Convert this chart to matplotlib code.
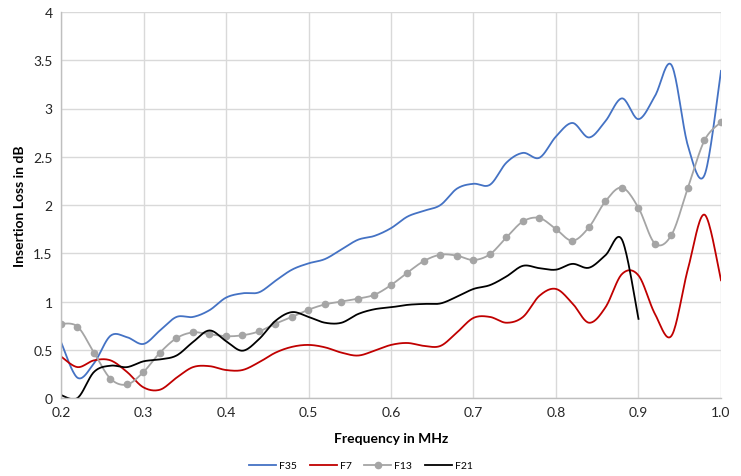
import numpy as np
import matplotlib
matplotlib.use("Agg")
import matplotlib.pyplot as plt

plt.rcParams['font.family'] = ['Lato', 'DejaVu Sans']

freq = [round(0.2 + 0.02 * i, 2) for i in range(41)]

f35 = [0.58, 0.21, 0.36, 0.645, 0.63, 0.56, 0.70, 0.84, 0.84, 0.91,
       1.04, 1.085, 1.095, 1.215, 1.33, 1.395, 1.44, 1.54, 1.64, 1.68,
       1.76, 1.88, 1.94, 2.00, 2.17, 2.22, 2.21, 2.44, 2.54, 2.49,
       2.71, 2.85, 2.70, 2.87, 3.105, 2.89, 3.13, 3.45, 2.61, 2.31,
       3.39]
f7 = [0.43, 0.32, 0.39, 0.39, 0.27, 0.11, 0.086, 0.21, 0.32, 0.33,
      0.29, 0.29, 0.37, 0.47, 0.53, 0.55, 0.525, 0.47, 0.44, 0.49,
      0.55, 0.57, 0.54, 0.54, 0.68, 0.83, 0.84, 0.78, 0.84, 1.06,
      1.13, 0.98, 0.78, 0.94, 1.285, 1.27, 0.87, 0.645, 1.34, 1.90,
      1.22]
f13 = [0.77, 0.74, 0.47, 0.20, 0.14, 0.27, 0.47, 0.62, 0.68, 0.66,
       0.64, 0.65, 0.69, 0.77, 0.84, 0.915, 0.97, 1.00, 1.03, 1.07,
       1.17, 1.30, 1.42, 1.485, 1.475, 1.43, 1.49, 1.665, 1.83, 1.865,
       1.75, 1.63, 1.77, 2.04, 2.18, 1.97, 1.60, 1.69, 2.18, 2.67,
       2.86]
# F21 stops at 0.9 MHz
f21 = [0.03, 0.0, 0.27, 0.335, 0.32, 0.38, 0.40, 0.44, 0.58, 0.70,
       0.59, 0.49, 0.61, 0.80, 0.89, 0.84, 0.78, 0.78, 0.87, 0.92,
       0.94, 0.965, 0.975, 0.98, 1.05, 1.13, 1.17, 1.26, 1.37, 1.345,
       1.33, 1.39, 1.35, 1.48, 1.64, 0.82]


def smooth(x, y, n=20):
    # Catmull-Rom style bezier, like a spreadsheet "smoothed line"
    x = np.asarray(x, float)
    y = np.asarray(y, float)
    px = np.concatenate([[x[0]], x, [x[-1]]])
    py = np.concatenate([[y[0]], y, [y[-1]]])
    xs, ys = [], []
    t = np.linspace(0, 1, n, endpoint=False)
    for i in range(1, len(px) - 2):
        p0 = np.array([px[i], py[i]])
        p3 = np.array([px[i + 1], py[i + 1]])
        c1 = p0 + (np.array([px[i + 1], py[i + 1]]) - np.array([px[i - 1], py[i - 1]])) / 6
        c2 = p3 - (np.array([px[i + 2], py[i + 2]]) - np.array([px[i], py[i]])) / 6
        b = ((1 - t) ** 3)[:, None] * p0 + (3 * (1 - t) ** 2 * t)[:, None] * c1 \
            + (3 * (1 - t) * t ** 2)[:, None] * c2 + (t ** 3)[:, None] * p3
        xs.extend(b[:, 0])
        ys.extend(b[:, 1])
    xs.append(x[-1])
    ys.append(y[-1])
    return xs, ys


fig = plt.figure(figsize=(7.41, 4.77), dpi=100)
ax = fig.add_axes([61 / 741, 78 / 477, 660 / 741, 386 / 477])

lw = 1.3
x, y = smooth(freq, f35)
ax.plot(x, y, color='#4472C4', lw=lw, label='F35')
x, y = smooth(freq, f7)
ax.plot(x, y, color='#C00000', lw=lw, label='F7')
x, y = smooth(freq, f13)
ax.plot(x, y, color='#A5A5A5', lw=lw)
ax.plot(freq, f13, 'o', color='#A5A5A5', ms=4.5)
ax.plot([], [], color='#A5A5A5', lw=lw, marker='o', ms=4.5, label='F13')
x, y = smooth(freq[:len(f21)], f21)
ax.plot(x, y, color='#000000', lw=lw, label='F21')

ax.set_xlim(0.2, 1.0)
ax.set_ylim(0, 4)
ax.set_xticks(np.arange(0.2, 1.01, 0.1))
ax.set_xticklabels(['0.2', '0.3', '0.4', '0.5', '0.6', '0.7', '0.8', '0.9', '1.0'])
ax.set_yticks(np.arange(0, 4.01, 0.5))
ax.set_yticklabels(['0', '0.5', '1', '1.5', '2', '2.5', '3', '3.5', '4'])
ax.grid(True, color='#D9D9D9', lw=1)
ax.set_axisbelow(True)
for s in ['top', 'right']:
    ax.spines[s].set_visible(False)
for s in ['left', 'bottom']:
    ax.spines[s].set_color('#BFBFBF')
    ax.spines[s].set_linewidth(1)
ax.tick_params(length=0, labelsize=10, colors='#262626', pad=6)

ax.set_xlabel('Frequency in MHz', fontsize=10, fontweight='bold', labelpad=10)
ax.set_ylabel('Insertion Loss in dB', fontsize=10, fontweight='bold', labelpad=5)

fig.legend(loc='center', bbox_to_anchor=(0.487, 0.022), ncol=4, frameon=False,
           fontsize=7.5, handlelength=2.6, handletextpad=0.3, columnspacing=1.2)

fig.savefig('out.png', dpi=100)
